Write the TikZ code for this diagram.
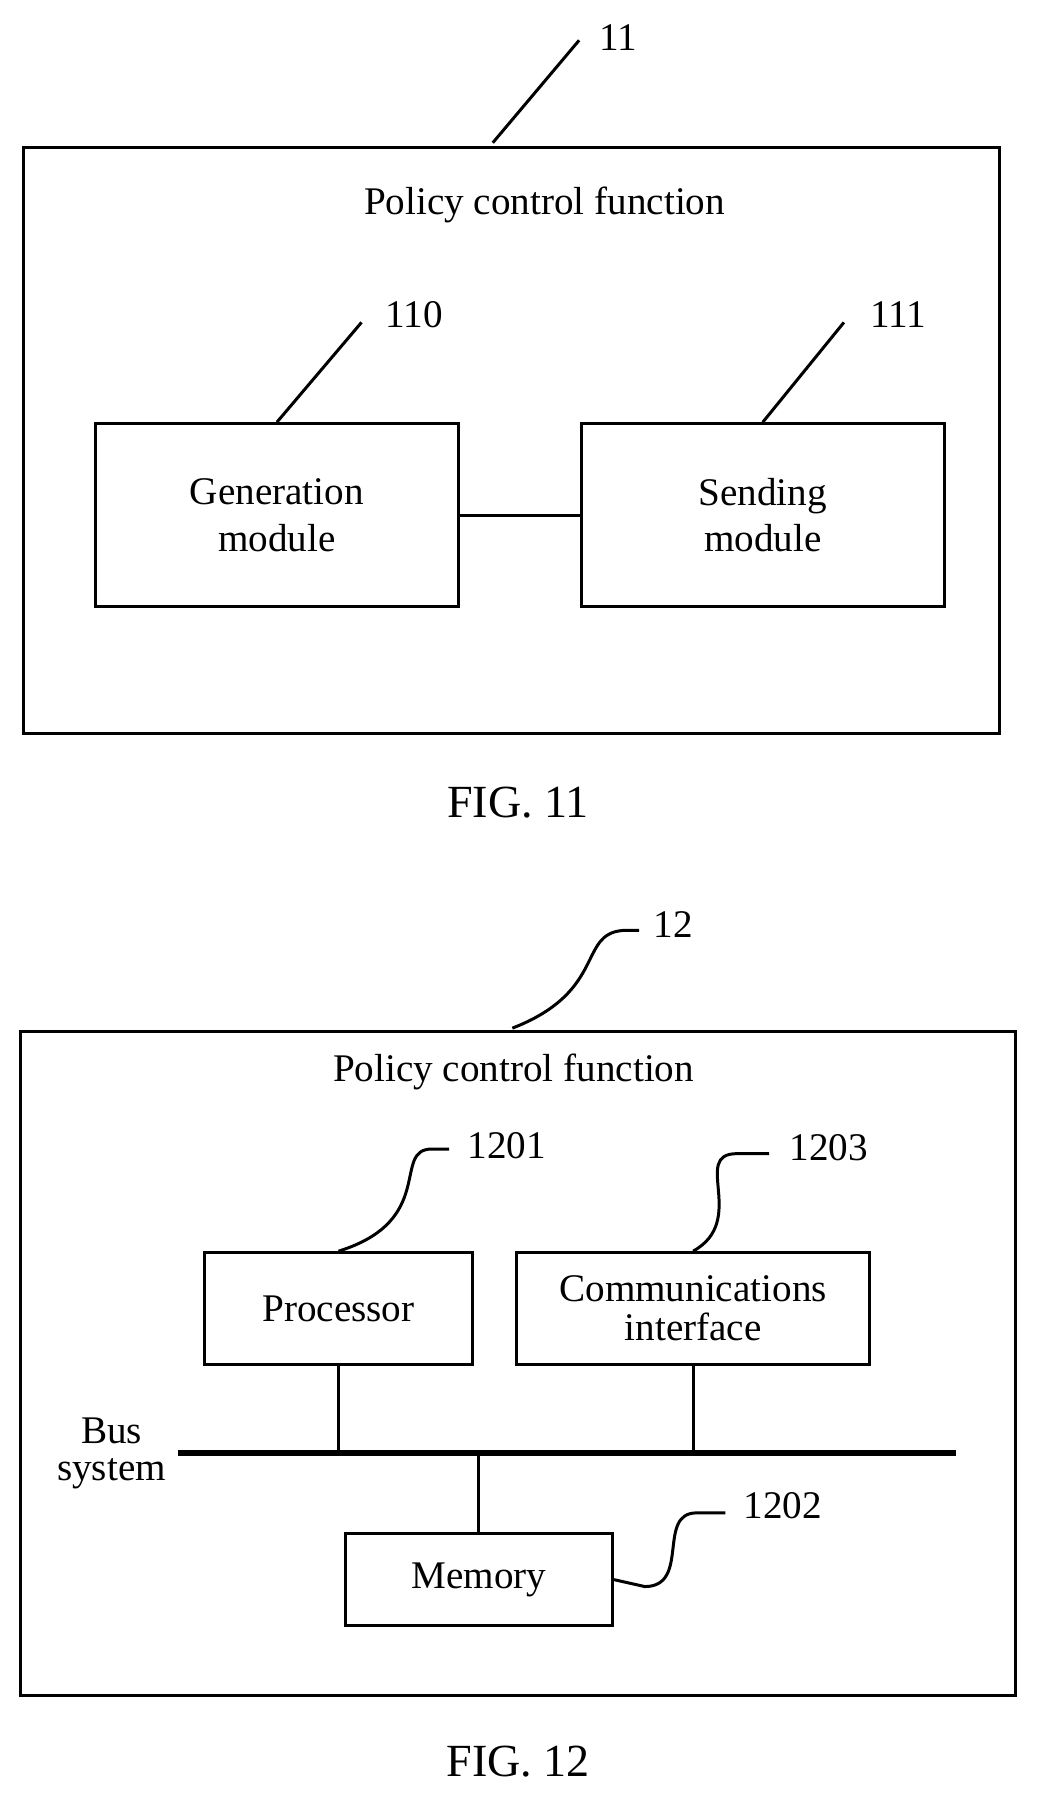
\documentclass[tikz,border=0pt]{standalone}
\usepackage{fontspec}
\setmainfont{Liberation Serif}
\begin{document}
\begin{tikzpicture}[x=0.5pt,y=-0.5pt,line width=1.3pt,
 lab/.style={font=\fontsize{17}{20}\selectfont,align=center},
 fig/.style={font=\fontsize{20}{24}\selectfont},
 box/.style={draw,line width=1.3pt}]
\useasboundingbox (0,0) rectangle (900,1566);
% FIG 11
\draw[box] (20,128) rectangle (868,637);
\coordinate (b11) at (428,124);
\node[lab] (n11) at (537,33) {11};
\draw (b11) -- (503,35);
\node[lab] (p1) at (473,178) {Policy control function};
\node[box,minimum width=157.5pt,minimum height=79.5pt,lab] (gen) at (240.5,447.5) {Generation\\module};
\node[box,minimum width=157.5pt,minimum height=79.5pt,lab] (snd) at (662.5,447.5) {Sending\\module};
\draw (gen) -- (snd);
\node[lab] (n110) at (360,273) {110};
\node[lab] (n111) at (780,273) {111};
\draw (gen.north) -- (314,280);
\draw (snd.north) -- (733,280);
\node[fig] (f11) at (450,697) {FIG. 11};
% FIG 12
\draw[box] (18,896) rectangle (882,1473);
\coordinate (b12) at (445,893);
\node[lab] (n12) at (585,803) {12};
\draw (b12) .. controls (530,860) and (500,808) .. (545,808) -- (555,808);
\node[lab] (p2) at (446,931) {Policy control function};
\node[box,minimum width=116pt,minimum height=48.5pt,lab] (proc) at (294,1136.5) {Processor};
\node[box,minimum width=153pt,minimum height=48.5pt,lab] (comm) at (602,1136.5) {Communications\\[-3pt]interface};
\node[box,minimum width=116pt,minimum height=40pt,lab] (mem) at (416,1372) {Memory};
\coordinate (busL) at (155,1262);
\coordinate (busR) at (830,1262);
\draw[line width=3pt] (busL) -- (busR);
\node[lab,anchor=east] (bus) at (152,1262) {Bus\\[-4pt]system};
\draw (proc.south) -- (proc.south |- busL);
\draw (comm.south) -- (comm.south |- busL);
\draw (mem.north) -- (mem.north |- busL);
\node[lab] (n1201) at (440,995) {1201};
\node[lab] (n1203) at (720,997) {1203};
\node[lab] (n1202) at (680,1308) {1202};
\draw (proc.north) .. controls (380,1060) and (340,998) .. (375,998) -- (390,998);
\draw (comm.north) .. controls (650,1060) and (600,1002) .. (640,1002) -- (668,1002);
\draw (mem.east) -- (560,1378) .. controls (600,1378) and (570,1314) .. (605,1314) -- (630,1314);
\node[fig] (f12) at (450,1530) {FIG. 12};
\end{tikzpicture}
\end{document}
